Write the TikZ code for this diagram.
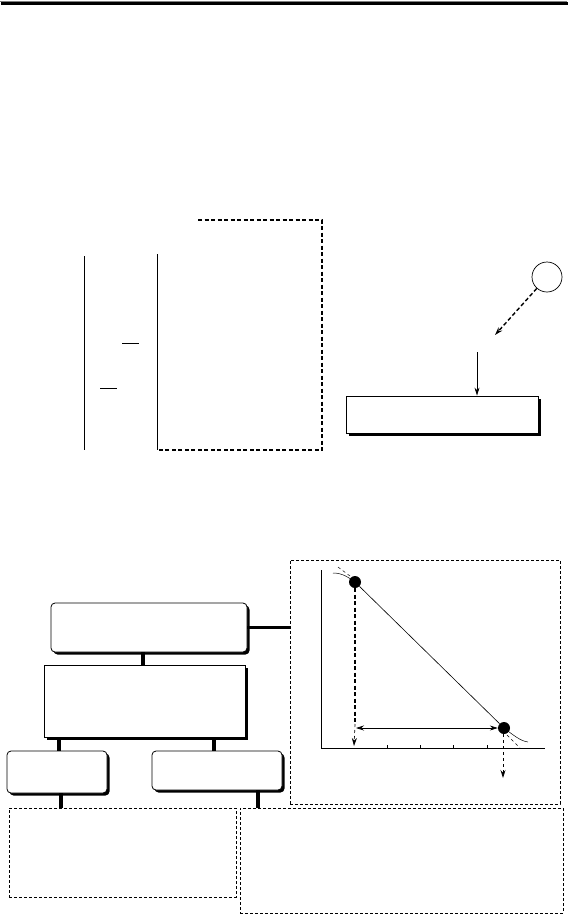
\documentclass[tikz,border=0pt]{standalone}
\usetikzlibrary{shadows,arrows.meta,calc}
\begin{document}
\begin{tikzpicture}[x=1pt,y=-1pt,
  shbox/.style={draw,line width=0.8pt,fill=white,inner sep=0pt,
    drop shadow={shadow xshift=2.5pt,shadow yshift=-2.5pt,fill=black,opacity=1}},
  rbox/.style={shbox,rounded corners=4pt},
  conn/.style={line width=3.5pt},
  dbox/.style={draw,dashed,line width=0.6pt,inner sep=0pt,dash pattern=on 3pt off 2pt},
  tdash/.style={line width=1.8pt,dash pattern=on 4pt off 2.5pt},
  arr/.style={-{Stealth[length=8pt,width=5pt]}},
  dot/.style={circle,fill=black,inner sep=0pt,minimum size=12pt}]
\useasboundingbox (0,0) rectangle (570,916);
% top rule
\draw[gray,line width=1pt] (0,1.5) -- (567,1.5);
\draw[line width=2.2pt] (1,3.5) -- (568,3.5);
% upper left lines
\draw[line width=0.9pt] (84,256) -- (84,450);
\draw[line width=0.9pt] (157,254) -- (157,450);
\draw[line width=0.9pt] (122,343) -- (139,343);
\draw[line width=0.9pt] (100,388) -- (117,388);
\draw[tdash] (198,220) -- (322,220) -- (322,450) -- (157,450);
% upper right
\node[draw,circle,line width=0.7pt,minimum size=30pt,inner sep=0pt] (c) at (547,277) {};
\coordinate (e1) at (495,335);
\draw[tdash,line width=1.4pt,arr] (c) -- (e1);
\node[shbox,minimum width=192pt,minimum height=37pt] (rb) at (442,414.5) {};
\coordinate (a1) at (477,352);
\draw[line width=0.8pt,arr] (a1) -- (a1 |- rb.north);
% lower left boxes
\node[rbox,minimum width=196pt,minimum height=49pt] (b1) at (149,627.5) {};
\node[shbox,minimum width=201pt,minimum height=72pt] (b2) at (144.5,701) {};
\node[rbox,minimum width=100pt,minimum height=42pt] (b3) at (57,772) {};
\node[rbox,minimum width=130pt,minimum height=39pt] (b4) at (217,770.5) {};
\node[dbox,minimum width=227pt,minimum height=89pt] (d1) at (122.5,852.5) {};
\node[dbox,minimum width=323pt,minimum height=105pt] (d2) at (401.5,860.5) {};
\node[dbox,minimum width=270pt,minimum height=244pt] (g) at (425,682) {};
\draw[conn] ([xshift=-6pt]b1.south) -- ([xshift=-6pt]b1.south |- b2.north);
\draw[conn] ([xshift=2pt]b3.north |- b2.south) -- ([xshift=2pt]b3.north);
\draw[conn] ([xshift=-3pt]b4.north |- b2.south) -- ([xshift=-3pt]b4.north);
\draw[conn] ([xshift=4pt]b3.south) -- ([xshift=4pt]b3.south |- d1.north);
\draw[conn] ([xshift=41pt]b4.south) -- ([xshift=41pt]b4.south |- d2.north);
\draw[conn] (b1.east) -- (b1.east -| g.west);
% graph
\draw[line width=0.8pt] (321,570) -- (321,748) -- (545,748);
\foreach \t in {387,420,453,487} \draw[line width=0.8pt] (\t,748) -- (\t,745);
\node[dot] (p1) at (355,582) {};
\node[dot] (p2) at (504,728) {};
\draw[line width=0.6pt] (p1) -- (p2);
\draw[line width=0.5pt] (333,573) .. controls (342,573) and (348,577) .. (p1.center);
\draw[line width=0.5pt,dashed] (338,567) -- (350,576);
\draw[line width=0.5pt] (p2.center) .. controls (512,734) and (520,741) .. (528,742);
\draw[line width=0.5pt,dashed] (507,735) -- (520,748);
\coordinate (q1) at (355,724);
\draw[tdash] (p1.south) -- (q1);
\coordinate (q2) at (354,746);
\draw[dashed,line width=0.7pt,arr] (q1) -- (q2);
\draw[line width=0.7pt,{Stealth[length=8pt,width=5pt]}-{Stealth[length=8pt,width=5pt]}] (356,728) -- (p2.west);
\coordinate (q3) at (503,778);
\draw[dashed,line width=0.8pt,arr] (p2.south -| q3) -- (q3);
\end{tikzpicture}
\end{document}
